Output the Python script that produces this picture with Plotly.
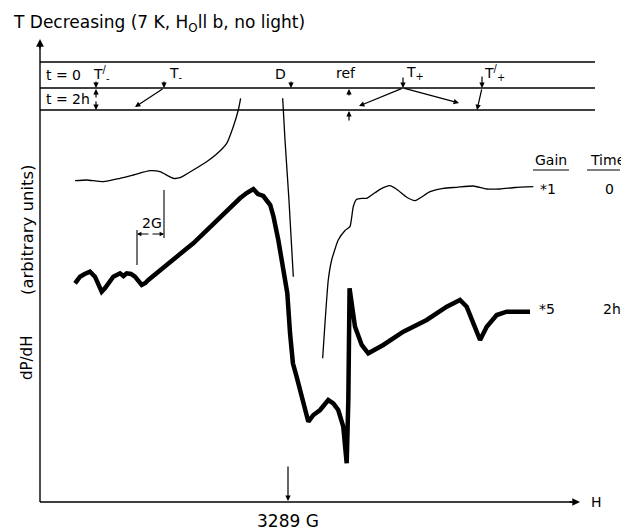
import plotly.graph_objects as go

# ---------------- data (field offset from 3289 G in gauss, signal in arbitrary units) -------------
# t = 0, gain *1 (thin trace; pen leaves the chart twice, hence the breaks)
t0_dH = [-15.60, -14.75, -13.53, -12.31, -11.33, -10.11, -9.38, -8.40, -7.91, -6.94, -5.96,
         -5.27, -4.49, -4.01, -3.64, -3.47,
         None,
         -0.39, -0.22, 0.07, 0.39,
         None,
         2.54, 2.71, 2.95, 3.20, 3.68, 4.18, 4.54, 4.78, 5.03, 5.42, 5.77, 6.74, 7.47, 7.96,
         8.70, 9.30, 10.40, 11.38, 12.36, 13.58, 14.56, 15.53, 16.63, 17.97]
t0_sig = [32.13, 32.20, 32.03, 32.37, 32.70, 33.13, 33.03, 32.37, 32.43, 33.20, 34.03,
          34.75, 35.87, 37.53, 39.20, 40.37,
          None,
          40.37, 36.20, 30.20, 22.53,
          None,
          14.37, 17.90, 22.20, 24.20, 26.20, 27.15, 27.53, 29.53, 30.27, 30.37, 30.37, 31.27,
          31.63, 31.27, 30.47, 30.13, 31.03, 31.37, 31.47, 31.60, 31.30, 31.30, 31.45, 31.53]

# t = 2h, gain *5 (thick, noisy trace)
t2_dH = [-15.60, -15.42, -15.24, -14.90, -14.51, -14.14, -13.90, -13.65, -13.40, -13.16,
         -12.80, -12.55, -12.31, -12.05, -11.82, -11.50, -11.21, -10.72, -10.45, -10.23,
         -9.80, -9.38, -8.80, -8.15, -7.55, -6.94, -6.30, -5.71, -5.10, -4.49, -4.00,
         -3.52, -3.03, -2.54, -2.20, -1.81, -1.30, -1.06, -0.71, -0.34, -0.05, 0.15, 0.36,
         0.63, 1.12, 1.49, 1.86, 2.35, 2.95, 3.32, 3.68, 4.05, 4.30, 4.42, 4.51, 4.78, 4.91,
         5.40, 5.88, 6.98, 8.45, 10.16, 11.63, 12.60, 13.09, 13.58, 14.07, 14.56, 15.29,
         16.02, 17.00, 17.73]
t2_sig = [21.87, 22.20, 22.53, 22.80, 23.03, 22.53, 21.90, 21.03, 21.40, 21.87,
          22.53, 22.70, 22.87, 22.60, 22.87, 22.80, 22.53, 21.70, 21.90, 22.20,
          22.70, 23.20, 23.80, 24.53, 25.20, 25.87, 26.70, 27.53, 28.40, 29.20, 29.80,
          30.37, 30.90, 31.30, 30.80, 30.60, 29.70, 28.53, 26.20, 23.53, 20.87, 16.87, 13.87,
          12.53, 10.00, 8.03, 8.70, 9.20, 10.20, 9.87, 9.20, 7.53, 3.87, 10.20, 21.37, 18.20,
          17.53, 15.70, 14.87, 15.70, 17.03, 18.20, 19.53, 20.20, 19.53, 17.87, 16.20, 17.53,
          18.70, 19.03, 19.03, 19.03]

gain_labels = ["*1", "*5"]
time_labels = ["0", "2h"]
center_label = "3289 G"

# ---------------- figure ----------------
PAGE_W, PAGE_H = 629, 530
OFF = 8                      # default page margin of the html body
W, H = PAGE_W - OFF, PAGE_H - OFF
PX_PER_G = 13.65
CX = 288                     # page x of 3289 G
BASE_Y = 502                 # page y of signal zero
PX_PER_UNIT = 10
def px(x): return (x - OFF) / W
def py(y): return 1 - (y - OFF) / H

FONT = "DejaVu Sans"
INK = "black"

fig = go.Figure()
fig.add_trace(go.Scatter(x=t0_dH, y=t0_sig, mode="lines", connectgaps=False,
                         line=dict(color=INK, width=1.3, shape="spline", smoothing=0.5),
                         hoverinfo="skip", showlegend=False))
fig.add_trace(go.Scatter(x=t2_dH, y=t2_sig, mode="lines",
                         line=dict(color=INK, width=4.5),
                         hoverinfo="skip", showlegend=False))

shapes = []
def seg(x0, y0, x1, y1, w=1.3):
    shapes.append(dict(type="line", xref="paper", yref="paper",
                       x0=px(x0), y0=py(y0), x1=px(x1), y1=py(y1),
                       line=dict(color=INK, width=w)))

# axes
seg(40, 502, 40, 46, 1.4)
seg(40, 502, 572, 502, 1.4)
# time box
for yy in (62, 88, 110):
    seg(40, yy, 595, yy, 1.3)
# 2G scale bar
seg(137, 230, 137, 265, 1.1)
seg(164, 190, 164, 238, 1.1)
# underlines
seg(533, 170, 569, 170, 1.2)
seg(587, 170, 620, 170, 1.2)

ann = []
def arrow(hx, hy, tx, ty, w=1.2, size=0.9):
    ann.append(dict(x=px(hx), y=py(hy), xref="paper", yref="paper",
                    ax=tx - hx, ay=ty - hy, axref="pixel", ayref="pixel",
                    showarrow=True, arrowhead=2, arrowsize=size, arrowwidth=w,
                    arrowcolor=INK, text=""))
def text(x, y, s, size=13, xanchor="center", angle=0):
    ann.append(dict(x=px(x), y=py(y), xref="paper", yref="paper", text=s,
                    showarrow=False, xanchor=xanchor, yanchor="middle", borderpad=0,
                    textangle=angle, font=dict(family=FONT, size=size, color=INK)))

# axis arrowheads
arrow(40, 39, 40, 50, 1.4, 1.1)
arrow(580, 502, 568, 502, 1.4, 1.1)
# field marker
arrow(288, 501, 288, 465, 1.2)
# box markers
arrow(96, 88, 96, 80)
arrow(96, 89, 96, 99)
arrow(96, 110, 96, 100)
arrow(164, 88, 164, 80)
arrow(135, 107, 164, 88)
arrow(291, 88, 291, 80)
arrow(349, 89, 349, 97)
arrow(349, 111, 349, 122)
arrow(403, 88, 403, 76)
arrow(359, 106, 403, 88)
arrow(459, 103, 403, 88)
arrow(482, 88, 482, 75)
arrow(477, 110, 482, 88)
# 2G arrows
arrow(137, 234, 150, 234, 1.1, 0.8)
arrow(164, 234, 151, 234, 1.1, 0.8)

text(12, 23, "T Decreasing (7 K, H<sub>O</sub>ll b, no light)", 17, "left")
text(45, 75, "t = 0", 14, "left")
text(45, 99, "t = 2h", 14, "left")
text(101, 74, "T<sup>/</sup><sub>-</sub>", 14)
text(176, 74, "T<sub>-</sub>", 14)
text(280, 74, "D", 14)
text(346, 73, "ref", 14)
text(415, 73, "T<sub>+</sub>", 14)
text(494, 73, "T<sup>/</sup><sub>+</sub>", 14)
text(152, 223, "2G", 14)
text(551, 160, "Gain", 14)
text(607, 160, "Time", 14)
text(548, 189, gain_labels[0], 14)
text(609, 189, time_labels[0], 14)
text(547, 309, gain_labels[1], 14)
text(612, 309, time_labels[1], 14)
text(288, 521, center_label, 17)
text(596, 502, "H", 14)
text(27, 358, "dP/dH", 15, angle=-90)
text(27, 230, "(arbitrary units)", 16.5, angle=-90)

fig.update_layout(
    width=W, height=H, margin=dict(l=0, r=0, t=0, b=0),
    paper_bgcolor="white", plot_bgcolor="white",
    xaxis=dict(range=[(OFF - CX) / PX_PER_G, (PAGE_W - CX) / PX_PER_G],
               visible=False, fixedrange=True),
    yaxis=dict(range=[(BASE_Y - PAGE_H) / PX_PER_UNIT, (BASE_Y - OFF) / PX_PER_UNIT],
               visible=False, fixedrange=True),
    shapes=shapes, annotations=ann,
)
fig.write_html("out.html")
